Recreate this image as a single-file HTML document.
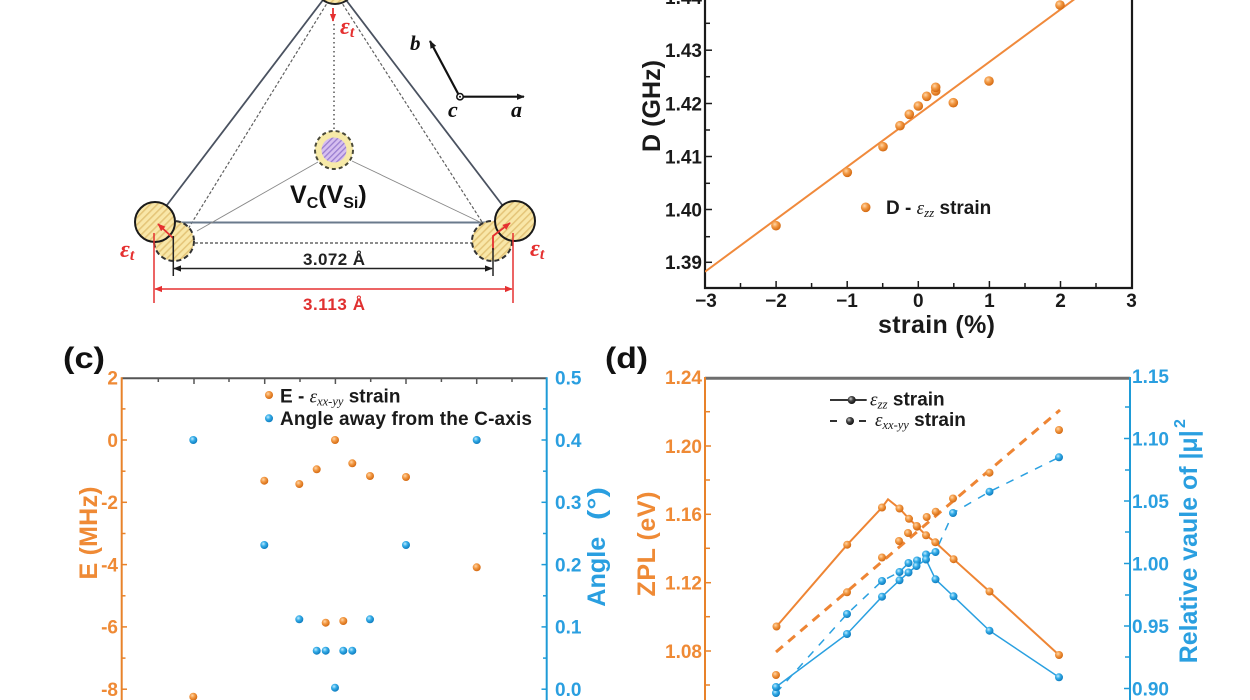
<!DOCTYPE html>
<html><head><meta charset="utf-8"><style>
html,body{margin:0;padding:0;background:#fff;}
svg{display:block;}
text{font-family:"Liberation Sans",Arial,sans-serif;font-weight:bold;}
.g{font-family:"Liberation Serif",serif;font-style:italic;font-weight:normal;}
.gb{font-family:"Liberation Serif",serif;font-style:italic;font-weight:bold;}
</style></head><body>
<svg width="1250" height="700" viewBox="0 0 1250 700" xmlns="http://www.w3.org/2000/svg">
<defs>
 <pattern id="hy" patternUnits="userSpaceOnUse" width="5" height="5" patternTransform="rotate(45)">
  <rect width="5" height="5" fill="#f9e7a8"/><rect width="1.6" height="5" fill="#e5c67a"/>
 </pattern>
 <pattern id="hp" patternUnits="userSpaceOnUse" width="4" height="4" patternTransform="rotate(45)">
  <rect width="4" height="4" fill="#d6bff0"/><rect width="1.3" height="4" fill="#9a7ed0"/>
 </pattern>
 <radialGradient id="og" cx="0.38" cy="0.35" r="0.65"><stop offset="0" stop-color="#ffd6a8"/><stop offset="0.45" stop-color="#f39a45"/><stop offset="1" stop-color="#d46a12"/></radialGradient>
 <radialGradient id="bg" cx="0.38" cy="0.35" r="0.65"><stop offset="0" stop-color="#c0ebff"/><stop offset="0.45" stop-color="#35ade8"/><stop offset="1" stop-color="#0e7cbf"/></radialGradient>
 <radialGradient id="kg" cx="0.38" cy="0.35" r="0.65"><stop offset="0" stop-color="#cfcfcf"/><stop offset="0.45" stop-color="#444"/><stop offset="1" stop-color="#111"/></radialGradient>
 <marker id="ar" viewBox="0 0 10 10" refX="9" refY="5" markerUnits="userSpaceOnUse" markerWidth="8" markerHeight="8" orient="auto-start-reverse"><path d="M0,1 L10,5 L0,9 z" fill="#e53030"/></marker>
 <marker id="ak" viewBox="0 0 10 10" refX="9" refY="5" markerUnits="userSpaceOnUse" markerWidth="8" markerHeight="8" orient="auto-start-reverse"><path d="M0,1 L10,5 L0,9 z" fill="#1a1a1a"/></marker>
 <clipPath id="cb"><rect x="705" y="0" width="427" height="288"/></clipPath>
</defs>

<!-- ===== Panel (a): diagram ===== -->
<g fill="none">
 <line x1="323" y1="0" x2="167" y2="205" stroke="#4a5260" stroke-width="1.8"/>
 <line x1="329" y1="0" x2="188" y2="229" stroke="#606060" stroke-width="1.2" stroke-dasharray="3,2"/>
 <line x1="346" y1="0" x2="503" y2="206" stroke="#4a5260" stroke-width="1.8"/>
 <line x1="340" y1="0" x2="484" y2="225" stroke="#606060" stroke-width="1.2" stroke-dasharray="3,2"/>
 <line x1="175" y1="222.5" x2="495" y2="222.5" stroke="#6a7a8c" stroke-width="2"/>
 <line x1="195" y1="243" x2="473" y2="243" stroke="#666" stroke-width="1.5" stroke-dasharray="3,2"/>
 <line x1="318" y1="162" x2="197" y2="231" stroke="#888" stroke-width="0.9"/>
 <line x1="352" y1="161" x2="482" y2="223" stroke="#888" stroke-width="0.9"/>
 <line x1="334" y1="24" x2="334" y2="130" stroke="#555" stroke-width="1.5" stroke-dasharray="1.5,3"/>
</g>
<circle cx="335" cy="-16" r="20" fill="url(#hy)" stroke="#222" stroke-width="2"/>
<circle cx="174" cy="241" r="20" fill="url(#hy)" stroke="#333" stroke-width="2" stroke-dasharray="5,3"/>
<circle cx="155" cy="222" r="20" fill="url(#hy)" stroke="#1a1a1a" stroke-width="2"/>
<circle cx="492" cy="241" r="20" fill="url(#hy)" stroke="#333" stroke-width="2" stroke-dasharray="5,3"/>
<circle cx="515" cy="221" r="20" fill="url(#hy)" stroke="#1a1a1a" stroke-width="2"/>
<circle cx="334" cy="150" r="19" fill="#f7eaa8" stroke="#4a4a3a" stroke-width="2" stroke-dasharray="4,3"/>
<circle cx="334" cy="150" r="12.5" fill="url(#hp)"/>

<g stroke="#e53030" stroke-width="1.8" fill="none">
 <line x1="333" y1="8" x2="333" y2="21" marker-end="url(#ar)"/>
 <line x1="173" y1="238" x2="158" y2="224" marker-end="url(#ar)"/>
 <polyline points="493,250 493,236 510,223" marker-end="url(#ar)"/>
 <line x1="154" y1="233" x2="154" y2="303" stroke-width="1.5"/>
 <line x1="513" y1="233" x2="513" y2="303" stroke-width="1.5"/>
 <line x1="155" y1="289" x2="512" y2="289" stroke-width="1.5" marker-start="url(#ar)" marker-end="url(#ar)"/>
</g>
<g stroke="#222" stroke-width="1.5" fill="none">
 <line x1="173.3" y1="236" x2="173.3" y2="276"/>
 <line x1="493" y1="248" x2="493" y2="276"/>
 <line x1="174" y1="268.5" x2="492" y2="268.5" marker-start="url(#ak)" marker-end="url(#ak)"/>
</g>
<text x="334" y="265" font-size="17" fill="#222" text-anchor="middle" textLength="62">3.072 Å</text>
<text x="334" y="310" font-size="17" fill="#e03030" text-anchor="middle" textLength="62">3.113 Å</text>
<text x="340" y="34" class="gb" font-size="24" fill="#e53030">ε<tspan font-size="16" dy="3">t</tspan></text>
<text x="120" y="257" class="gb" font-size="24" fill="#e53030">ε<tspan font-size="16" dy="3">t</tspan></text>
<text x="530" y="256" class="gb" font-size="24" fill="#e53030">ε<tspan font-size="16" dy="3">t</tspan></text>
<text x="290" y="203" font-size="25" fill="#111">V<tspan font-size="16" dy="5">C</tspan><tspan font-size="25" dy="-5">(V</tspan><tspan font-size="16" dy="5">Si</tspan><tspan font-size="25" dy="-5">)</tspan></text>

<circle cx="460" cy="96.7" r="3.2" fill="#fff" stroke="#111" stroke-width="1.5"/>
<circle cx="460" cy="96.7" r="1" fill="#111"/>
<line x1="463.5" y1="96.7" x2="524" y2="96.7" stroke="#111" stroke-width="2.2" marker-end="url(#ak)"/>
<line x1="458" y1="93.5" x2="430" y2="41" stroke="#111" stroke-width="2.2" marker-end="url(#ak)"/>
<text x="410" y="50" class="gb" font-size="21" fill="#111">b</text>
<text x="448" y="117" class="gb" font-size="22" fill="#111">c</text>
<text x="511" y="117" class="gb" font-size="22" fill="#111">a</text>

<!-- ===== Panel (b) ===== -->
<path d="M705,0 V288 H1132 V0" fill="none" stroke="#1a1a1a" stroke-width="2.2"/>
<g stroke="#1a1a1a" stroke-width="1.5">
 <line x1="705" y1="236.7" x2="710" y2="236.7"/><line x1="705" y1="183.3" x2="710" y2="183.3"/>
 <line x1="705" y1="130" x2="710" y2="130"/><line x1="705" y1="76.7" x2="710" y2="76.7"/>
 <line x1="705" y1="23.3" x2="710" y2="23.3"/>
 <line x1="705" y1="262.3" x2="712" y2="262.3"/><line x1="705" y1="209.5" x2="712" y2="209.5"/>
 <line x1="705" y1="156.5" x2="712" y2="156.5"/><line x1="705" y1="103.5" x2="712" y2="103.5"/>
 <line x1="705" y1="50.2" x2="712" y2="50.2"/>
 <line x1="740.5" y1="288" x2="740.5" y2="283"/><line x1="811.6" y1="288" x2="811.6" y2="283"/>
 <line x1="882.7" y1="288" x2="882.7" y2="283"/><line x1="953.8" y1="288" x2="953.8" y2="283"/>
 <line x1="1025" y1="288" x2="1025" y2="283"/><line x1="1096" y1="288" x2="1096" y2="283"/>
 <line x1="776.1" y1="288" x2="776.1" y2="281"/><line x1="847.2" y1="288" x2="847.2" y2="281"/>
 <line x1="918.3" y1="288" x2="918.3" y2="281"/><line x1="989.4" y1="288" x2="989.4" y2="281"/>
 <line x1="1060.5" y1="288" x2="1060.5" y2="281"/>
</g>
<g font-size="19" fill="#1a1a1a" text-anchor="end">
 <text x="702" y="269.1">1.39</text><text x="702" y="216.6">1.40</text><text x="702" y="163.6">1.41</text>
 <text x="702" y="110.6">1.42</text><text x="702" y="57.1">1.43</text><text x="702" y="4.1">1.44</text>
</g>
<g font-size="19" fill="#1a1a1a" text-anchor="middle">
 <text x="706" y="307">−3</text><text x="776" y="307">−2</text><text x="847" y="307">−1</text>
 <text x="918.3" y="307">0</text><text x="989.4" y="307">1</text><text x="1060.5" y="307">2</text><text x="1131.6" y="307">3</text>
</g>
<text x="936.5" y="333" font-size="25" fill="#1a1a1a" text-anchor="middle" textLength="117">strain (%)</text>
<text x="660" y="106" font-size="25" fill="#1a1a1a" text-anchor="middle" textLength="92" transform="rotate(-90 660 106)">D (GHz)</text>
<line x1="705" y1="271.7" x2="1132" y2="-43.3" stroke="#f08a3c" stroke-width="2" clip-path="url(#cb)"/>
<g fill="url(#og)">
 <circle cx="776" cy="225.7" r="4.8"/><circle cx="847.3" cy="172.3" r="4.8"/><circle cx="883" cy="146.7" r="4.8"/>
 <circle cx="900" cy="125.7" r="4.8"/><circle cx="909.3" cy="114.3" r="4.8"/><circle cx="918.3" cy="106" r="4.8"/>
 <circle cx="926.7" cy="96.3" r="4.8"/><circle cx="935.7" cy="91" r="4.8"/><circle cx="935.7" cy="87.3" r="4.8"/>
 <circle cx="953.3" cy="102.7" r="4.8"/><circle cx="989" cy="81" r="4.8"/><circle cx="1060" cy="5" r="4.8"/>
 <circle cx="865.7" cy="207.3" r="4.8"/>
</g>
<text x="886" y="214" font-size="19" fill="#1a1a1a">D - <tspan class="g">ε</tspan><tspan class="g" font-size="13" dy="3">zz</tspan><tspan dy="-3"> strain</tspan></text>

<!-- ===== Panel (c) ===== -->
<text x="63" y="368" font-size="30" fill="#111" textLength="42" lengthAdjust="spacingAndGlyphs">(c)</text>
<line x1="121.7" y1="378.3" x2="546.7" y2="378.3" stroke="#555" stroke-width="2"/>
<line x1="121.7" y1="377.3" x2="121.7" y2="700" stroke="#e8822a" stroke-width="2"/>
<line x1="546.7" y1="377.3" x2="546.7" y2="700" stroke="#1e9bd7" stroke-width="2"/>
<g stroke="#555" stroke-width="1.5">
 <line x1="194" y1="378" x2="194" y2="384"/><line x1="264.7" y1="378" x2="264.7" y2="384"/>
 <line x1="335.4" y1="378" x2="335.4" y2="384"/><line x1="406" y1="378" x2="406" y2="384"/>
 <line x1="476.7" y1="378" x2="476.7" y2="384"/>
 <line x1="158.3" y1="378" x2="158.3" y2="382"/><line x1="229" y1="378" x2="229" y2="382"/>
 <line x1="300" y1="378" x2="300" y2="382"/><line x1="370.7" y1="378" x2="370.7" y2="382"/>
 <line x1="441.4" y1="378" x2="441.4" y2="382"/><line x1="512" y1="378" x2="512" y2="382"/>
</g>
<g stroke="#e8822a" stroke-width="1.5">
 <line x1="121.7" y1="440" x2="127" y2="440"/><line x1="121.7" y1="502.3" x2="127" y2="502.3"/>
 <line x1="121.7" y1="564.6" x2="127" y2="564.6"/><line x1="121.7" y1="626.9" x2="127" y2="626.9"/>
 <line x1="121.7" y1="689.2" x2="127" y2="689.2"/>
 <line x1="121.7" y1="408.9" x2="125.5" y2="408.9"/><line x1="121.7" y1="471.2" x2="125.5" y2="471.2"/>
 <line x1="121.7" y1="533.5" x2="125.5" y2="533.5"/><line x1="121.7" y1="595.8" x2="125.5" y2="595.8"/>
 <line x1="121.7" y1="658.1" x2="125.5" y2="658.1"/>
</g>
<g stroke="#1e9bd7" stroke-width="1.5">
 <line x1="541.5" y1="440" x2="546.7" y2="440"/><line x1="541.5" y1="502.3" x2="546.7" y2="502.3"/>
 <line x1="541.5" y1="564.6" x2="546.7" y2="564.6"/><line x1="541.5" y1="626.9" x2="546.7" y2="626.9"/>
 <line x1="541.5" y1="689.2" x2="546.7" y2="689.2"/>
 <line x1="543" y1="408.9" x2="546.7" y2="408.9"/><line x1="543" y1="471.2" x2="546.7" y2="471.2"/>
 <line x1="543" y1="533.5" x2="546.7" y2="533.5"/><line x1="543" y1="595.8" x2="546.7" y2="595.8"/>
 <line x1="543" y1="658.1" x2="546.7" y2="658.1"/>
</g>
<g font-size="19" fill="#ef8a35" text-anchor="end">
 <text x="118" y="384.5">2</text><text x="118" y="446.8">0</text><text x="118" y="509.1">-2</text>
 <text x="118" y="571.4">-4</text><text x="118" y="633.7">-6</text><text x="118" y="696">-8</text>
</g>
<g font-size="19" fill="#2a9fe0">
 <text x="555" y="384.5">0.5</text><text x="555" y="446.8">0.4</text><text x="555" y="509.1">0.3</text>
 <text x="555" y="571.4">0.2</text><text x="555" y="633.7">0.1</text><text x="555" y="696">0.0</text>
</g>
<text x="97" y="533" font-size="25" fill="#ef8a35" text-anchor="middle" textLength="93" transform="rotate(-90 97 533)">E (MHz)</text>
<text x="605" y="606.7" font-size="25" fill="#2a9fe0" textLength="70" lengthAdjust="spacingAndGlyphs" transform="rotate(-90 605 606.7)">Angle</text>
<text x="605" y="520" font-size="25" fill="#2a9fe0" textLength="33" lengthAdjust="spacingAndGlyphs" transform="rotate(-90 605 520)">(°)</text>
<g fill="url(#og)">
 <circle cx="193.3" cy="696.7" r="4"/><circle cx="264.3" cy="480.7" r="4"/><circle cx="299.3" cy="484" r="4"/>
 <circle cx="316.7" cy="469.3" r="4"/><circle cx="335" cy="440" r="4"/><circle cx="352.3" cy="463.3" r="4"/>
 <circle cx="370" cy="476" r="4"/><circle cx="406" cy="477" r="4"/><circle cx="476.7" cy="567.3" r="4"/>
 <circle cx="325.7" cy="622.7" r="4"/><circle cx="343.3" cy="621" r="4"/>
 <circle cx="269" cy="395" r="4"/>
</g>
<g fill="url(#bg)">
 <circle cx="193.3" cy="440" r="4"/><circle cx="264.3" cy="545" r="4"/><circle cx="299.3" cy="619.3" r="4"/>
 <circle cx="316.7" cy="650.7" r="4"/><circle cx="325.7" cy="650.7" r="4"/><circle cx="335" cy="687.7" r="4"/>
 <circle cx="343.3" cy="650.7" r="4"/><circle cx="352.3" cy="650.7" r="4"/><circle cx="370" cy="619.3" r="4"/>
 <circle cx="406" cy="545" r="4"/><circle cx="476.7" cy="440" r="4"/>
 <circle cx="269" cy="418.3" r="4"/>
</g>
<text x="280" y="402.7" font-size="19" fill="#1a1a1a">E - <tspan class="g">ε</tspan><tspan class="g" font-size="12.5" dy="3">xx-yy</tspan><tspan dy="-3"> strain</tspan></text>
<text x="280" y="425" font-size="19" fill="#1a1a1a" textLength="252">Angle away from the C-axis</text>

<!-- ===== Panel (d) ===== -->
<text x="605" y="368" font-size="30" fill="#111" textLength="43" lengthAdjust="spacingAndGlyphs">(d)</text>
<line x1="705" y1="378.3" x2="1130" y2="378.3" stroke="#6e6e6e" stroke-width="3"/>
<line x1="705" y1="377" x2="705" y2="700" stroke="#e8822a" stroke-width="2"/>
<line x1="1130" y1="377" x2="1130" y2="700" stroke="#1e9bd7" stroke-width="2"/>
<g stroke="#e8822a" stroke-width="1.5">
 <line x1="705" y1="446" x2="711" y2="446"/><line x1="705" y1="514.3" x2="711" y2="514.3"/>
 <line x1="705" y1="582.7" x2="711" y2="582.7"/><line x1="705" y1="651" x2="711" y2="651"/>
 <line x1="705" y1="411.7" x2="710" y2="411.7"/><line x1="705" y1="480" x2="710" y2="480"/>
 <line x1="705" y1="548.3" x2="710" y2="548.3"/><line x1="705" y1="616.7" x2="710" y2="616.7"/>
 <line x1="705" y1="685" x2="710" y2="685"/>
</g>
<g stroke="#1e9bd7" stroke-width="1.5">
 <line x1="1124" y1="438.5" x2="1130" y2="438.5"/><line x1="1124" y1="501" x2="1130" y2="501"/>
 <line x1="1124" y1="563.5" x2="1130" y2="563.5"/><line x1="1124" y1="626" x2="1130" y2="626"/>
 <line x1="1124" y1="688.5" x2="1130" y2="688.5"/>
 <line x1="1125" y1="407" x2="1130" y2="407"/><line x1="1125" y1="470" x2="1130" y2="470"/>
 <line x1="1125" y1="532" x2="1130" y2="532"/><line x1="1125" y1="595" x2="1130" y2="595"/>
 <line x1="1125" y1="657" x2="1130" y2="657"/>
</g>
<g font-size="19" fill="#ef8a35" text-anchor="end">
 <text x="702" y="384.1">1.24</text><text x="702" y="452.8">1.20</text><text x="702" y="521.1">1.16</text>
 <text x="702" y="589.5">1.12</text><text x="702" y="657.8">1.08</text>
</g>
<g font-size="19" fill="#2a9fe0">
 <text x="1132" y="382.8">1.15</text><text x="1132" y="445.3">1.10</text><text x="1132" y="507.8">1.05</text>
 <text x="1132" y="570.3">1.00</text><text x="1132" y="632.8">0.95</text><text x="1132" y="695.3">0.90</text>
</g>
<text x="655" y="544" font-size="25" fill="#ef8a35" text-anchor="middle" textLength="105" transform="rotate(-90 655 544)">ZPL (eV)</text>
<text x="1197" y="663.3" font-size="25" fill="#2a9fe0" textLength="233" transform="rotate(-90 1197 663.3)">Relative vaule of |μ|</text>
<text x="1185" y="428" font-size="16" fill="#2a9fe0" transform="rotate(-90 1185 428)">2</text>

<!-- series -->
<line x1="776" y1="652" x2="1060" y2="410" stroke="#ee8534" stroke-width="3" stroke-dasharray="9,7"/>
<polyline fill="none" stroke="#2aa0e0" stroke-width="1.5" stroke-dasharray="8,8" points="776,693 847,614 882,581 899.5,572 908.5,563 917,560.5 926,554.5 935.5,552 953,513 989.5,491.7 1059,457.3"/>
<polyline fill="none" stroke="#ee8534" stroke-width="2" points="776.5,626.5 847.2,544.7 882,507.5 888,499.3 899.5,508.5 909,518.8 916.7,526 926,535.3 935.3,542.3 953.6,559.2 989.5,591.5 1059,655"/>
<polyline fill="none" stroke="#2aa0e0" stroke-width="1.5" points="776,687 847,634 882,596.7 899.5,580.3 908.5,572.5 916.5,566 926,559.5 935.5,579.3 953.5,596.3 989.5,630.7 1059,677.3"/>
<g fill="url(#og)">
 <circle cx="776" cy="675" r="4"/><circle cx="847" cy="592.3" r="4"/><circle cx="882" cy="557.5" r="4"/>
 <circle cx="899" cy="541" r="4"/><circle cx="908" cy="533" r="4"/><circle cx="917" cy="526.7" r="4"/>
 <circle cx="926.7" cy="517" r="4"/><circle cx="935.7" cy="511.7" r="4"/><circle cx="953" cy="498.5" r="4"/>
 <circle cx="989.5" cy="472.7" r="4"/><circle cx="1059" cy="430" r="4"/>
 <circle cx="776.5" cy="626.5" r="4"/><circle cx="847.2" cy="544.7" r="4"/><circle cx="882" cy="507.5" r="4"/>
 <circle cx="899.5" cy="508.5" r="4"/><circle cx="909" cy="518.8" r="4"/><circle cx="916.7" cy="526" r="4"/>
 <circle cx="926" cy="535.3" r="4"/><circle cx="935.3" cy="542.3" r="4"/><circle cx="953.6" cy="559.2" r="4"/>
 <circle cx="989.5" cy="591.5" r="4"/><circle cx="1059" cy="655" r="4"/>
</g>
<g fill="url(#bg)">
 <circle cx="776" cy="693" r="4"/><circle cx="847" cy="614" r="4"/><circle cx="882" cy="581" r="4"/>
 <circle cx="899.5" cy="572" r="4"/><circle cx="908.5" cy="563" r="4"/><circle cx="917" cy="560.5" r="4"/>
 <circle cx="926" cy="554.5" r="4"/><circle cx="935.5" cy="552" r="4"/><circle cx="953" cy="513" r="4"/>
 <circle cx="989.5" cy="491.7" r="4"/><circle cx="1059" cy="457.3" r="4"/>
 <circle cx="776" cy="687" r="4"/><circle cx="847" cy="634" r="4"/><circle cx="882" cy="596.7" r="4"/>
 <circle cx="899.5" cy="580.3" r="4"/><circle cx="908.5" cy="572.5" r="4"/><circle cx="916.5" cy="566" r="4"/>
 <circle cx="926" cy="559.5" r="4"/><circle cx="935.5" cy="579.3" r="4"/><circle cx="953.5" cy="596.3" r="4"/>
 <circle cx="989.5" cy="630.7" r="4"/><circle cx="1059" cy="677.3" r="4"/>
</g>
<!-- legend d -->
<line x1="830" y1="400" x2="866.7" y2="400" stroke="#1a1a1a" stroke-width="1.8"/>
<circle cx="851.7" cy="400" r="4" fill="url(#kg)"/>
<line x1="830" y1="421" x2="837" y2="421" stroke="#1a1a1a" stroke-width="1.8"/>
<line x1="859" y1="421" x2="866" y2="421" stroke="#1a1a1a" stroke-width="1.8"/>
<circle cx="850" cy="421" r="4" fill="url(#kg)"/>
<text x="870" y="405.7" font-size="19" fill="#1a1a1a"><tspan class="g">ε</tspan><tspan class="g" font-size="13" dy="3">zz</tspan><tspan dy="-3"> strain</tspan></text>
<text x="875" y="426" font-size="19" fill="#1a1a1a"><tspan class="g">ε</tspan><tspan class="g" font-size="12.5" dy="3">xx-yy</tspan><tspan dy="-3"> strain</tspan></text>
</svg>
</body></html>
